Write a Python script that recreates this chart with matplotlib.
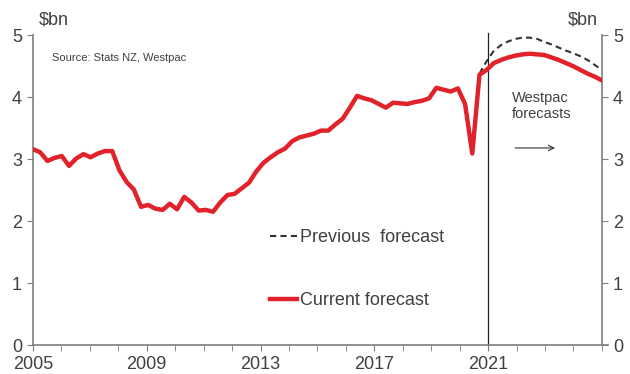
import matplotlib
matplotlib.use("Agg")
import matplotlib.pyplot as plt
import numpy as np

plt.rcParams['font.family'] = ['Liberation Sans', 'DejaVu Sans']

# Quarterly series, 2005 Q1 onwards ($bn)
current = [3.16, 3.11, 2.97, 3.02, 3.05, 2.89, 3.01, 3.08, 3.03, 3.09,
           3.13, 3.13, 2.82, 2.63, 2.51, 2.23, 2.26, 2.20, 2.18, 2.28,
           2.19, 2.39, 2.30, 2.17, 2.18, 2.15, 2.30, 2.42, 2.44, 2.53,
           2.62, 2.80, 2.94, 3.03, 3.11, 3.17, 3.29, 3.35, 3.38, 3.41,
           3.46, 3.46, 3.56, 3.65, 3.83, 4.02, 3.98, 3.95, 3.89, 3.83,
           3.91, 3.90, 3.89, 3.92, 3.94, 3.98, 4.15, 4.12, 4.09, 4.14,
           3.89, 3.09, 4.36, 4.44, 4.55, 4.60, 4.64, 4.67, 4.69, 4.70,
           4.69, 4.68, 4.64, 4.60, 4.55, 4.50, 4.44, 4.38, 4.33, 4.27]
# previous forecast starts at quarter 62
prev_start = 62
previous = [4.38, 4.58, 4.75, 4.84, 4.90, 4.94, 4.96, 4.96, 4.94, 4.89,
            4.85, 4.80, 4.75, 4.71, 4.66, 4.60, 4.52, 4.44]

year_ticks = [2005, 2009, 2013, 2017, 2021]
forecast_start = 2021

red = '#E2222B'
grey = '#7F7F7F'
txt = '#404040'

x = np.linspace(2005, 2025, len(current))
x_prev = x[prev_start:prev_start + len(previous)]

fig = plt.figure(figsize=(6.3, 3.74), dpi=100)
ax = fig.add_axes([0.0524, 0.0775, 0.903, 0.8285])

ax.plot(x_prev, previous, color='#333333', lw=1.5, ls=(0, (3, 2)),
        label='Previous  forecast', zorder=3)
ax.plot(x, current, color=red, lw=3.2, label='Current forecast', zorder=4)
ax.plot([forecast_start, forecast_start], [0, 5.03], color='#222222', lw=0.9,
        clip_on=False, zorder=2)

ax.set_xlim(2005, 2025)
ax.set_ylim(0, 5)
ax.set_xticks(year_ticks)
ax.set_xticks(range(2005, 2026), minor=True)
ax.set_yticks(range(0, 6))

ax.spines['top'].set_visible(False)
for s in ['left', 'right', 'bottom']:
    ax.spines[s].set_color(grey)
    ax.spines[s].set_linewidth(1.2)
ax.spines['bottom'].set_bounds(2005, 2025.2)

ax.tick_params(axis='y', which='both', left=True, right=True,
               labelleft=True, labelright=True, direction='out',
               length=4, color=grey, labelsize=13, labelcolor=txt, pad=4)
ax.tick_params(axis='x', which='both', direction='out', length=4,
               color=grey, labelsize=13, labelcolor=txt, pad=4)

ax.text(2005.2, 5.24, '$bn', fontsize=13, color=txt, va='center',
        ha='left', clip_on=False)
ax.text(2024.85, 5.24, '$bn', fontsize=13, color=txt, va='center',
        ha='right', clip_on=False)
ax.text(2005.67, 4.63, 'Source: Stats NZ, Westpac', fontsize=8,
        color=txt, va='center', ha='left')

ax.text(2021.85, 4.1, 'Westpac\nforecasts', fontsize=10.5, color=txt,
        va='top', ha='left', linespacing=1.2)
ax.annotate('', xy=(2023.45, 3.18), xytext=(2021.85, 3.18),
            arrowprops=dict(arrowstyle='->', color='#333333', lw=0.8))

ax.legend(loc='upper left', bbox_to_anchor=(0.417, 0.373), frameon=False,
          fontsize=13, handlelength=1.5, handletextpad=0.15,
          labelspacing=2.55, borderpad=0, borderaxespad=0,
          labelcolor=txt)

fig.savefig('out.png', dpi=100)
